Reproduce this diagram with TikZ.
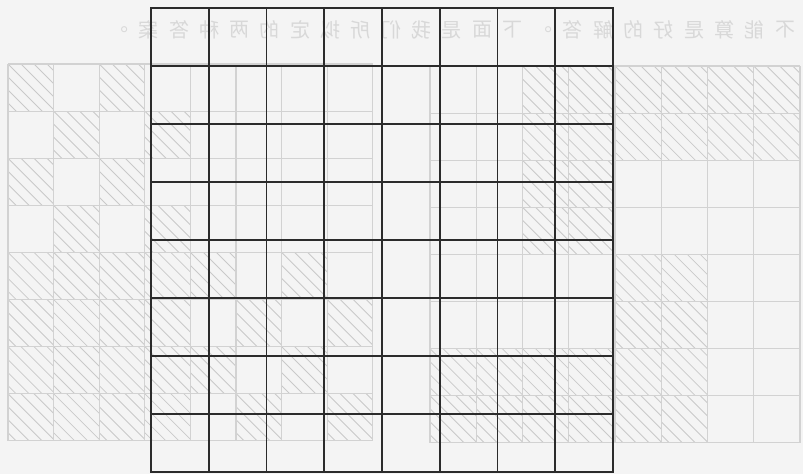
\documentclass[tikz,border=0pt]{standalone}
\usepackage{fontspec}
\newfontfamily\cjk{Noto Sans CJK SC}
\definecolor{paper}{HTML}{F4F4F4}
\definecolor{ghost}{HTML}{D2D2D2}
\definecolor{ghosttxt}{HTML}{D8D8D8}
\definecolor{ghosthatch}{HTML}{C9C9C9}
\definecolor{ink}{HTML}{2B2B2B}
\newcommand\hatchcell[4]{%
  \begin{scope}
    \clip (#1,#2) rectangle ++(#3,#4);
    \foreach \dd in {-5,...,5} \draw[hatchline] ({#1+13*\dd},#2) -- ++(60,60);
  \end{scope}}
\begin{document}
\begin{tikzpicture}[x=0.75pt,y=-0.75pt,
  mainline/.style={draw=ink,line width=1.25pt,line cap=rect},
  ghostline/.style={draw=ghost,line width=0.8pt},
  hatchline/.style={draw=ghosthatch,line width=0.6pt},
  ghosttext/.style={text=ghosttxt,font=\cjk\fontsize{15pt}{15pt}\selectfont,inner sep=0pt}]
\fill[paper] (0,0) rectangle (803,474);
\useasboundingbox (0,0) rectangle (803,474);
% ---- show-through: left board
\foreach \c/\r in {0/0,2/0,1/1,3/1,0/2,2/2,1/3,3/3,
  0/4,1/4,2/4,3/4,4/4,6/4, 0/5,1/5,2/5,3/5,5/5,7/5,
  0/6,1/6,2/6,3/6,4/6,6/6, 0/7,1/7,2/7,3/7,5/7,7/7}
  {\hatchcell{8+45.6*\c}{64+47.1*\r}{45.6}{47.1}}
\foreach \i in {0,...,8} {
  \draw[ghostline] ({8+45.6*\i},64) -- ({8+45.6*\i},440.8);
  \draw[ghostline] (8,{64+47.1*\i}) -- (372.8,{64+47.1*\i});
}
% ---- show-through: right board
\foreach \c/\r in {2/0,3/0,4/0,5/0,6/0,7/0, 2/1,3/1,4/1,5/1,6/1,7/1,
  2/2,3/2, 2/3,3/3, 4/4,5/4, 4/5,5/5,
  0/6,1/6,2/6,3/6,4/6,5/6, 0/7,1/7,2/7,3/7,4/7,5/7}
  {\hatchcell{430+46.25*\c}{66+47.1*\r}{46.25}{47.1}}
\foreach \i in {0,...,8} {
  \draw[ghostline] ({430+46.25*\i},66) -- ({430+46.25*\i},442.8);
  \draw[ghostline] (430,{66+47.1*\i}) -- (800,{66+47.1*\i});
}
% ---- show-through: mirrored line of text
\foreach \ch [count=\k from 0] in {不,能,算,是,好,的,解,答,。,下,面,是,我,们,所,拟,定,的,两,种,答,案,。}
  \node[ghosttext] (g\k) at ({785-30.3*\k},30) {\scalebox{-1}[1]{\ch}};
% ---- main 8x8 grid
\foreach \i in {0,...,8} {
  \draw[mainline] ({151+57.75*\i},8) -- ({151+57.75*\i},472);
  \draw[mainline] (151,{8+58*\i}) -- (613,{8+58*\i});
}
\end{tikzpicture}
\end{document}
